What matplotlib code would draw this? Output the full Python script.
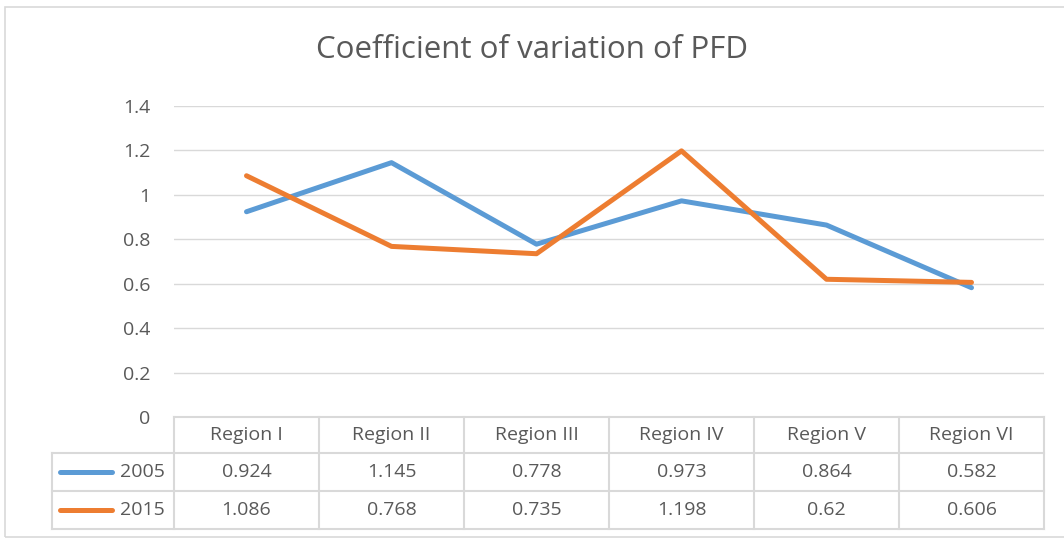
import matplotlib
matplotlib.use("Agg")
import matplotlib.pyplot as plt
from matplotlib.patches import Rectangle
from matplotlib.lines import Line2D

regions = ["Region I", "Region II", "Region III", "Region IV", "Region V", "Region VI"]
years = ["2005", "2015"]
v2005 = [0.924, 1.145, 0.778, 0.973, 0.864, 0.582]
v2015 = [1.086, 0.768, 0.735, 1.198, 0.62, 0.606]
series = [v2005, v2015]
colors = ["#5b9bd5", "#ed7d31"]
txt = "#595959"
grid = "#d9d9d9"

plt.rcParams['font.family'] = ['Open Sans', 'DejaVu Sans']

W, H = 1064, 540
fig = plt.figure(figsize=(W / 100, H / 100), dpi=100)

# pixel helpers
def fx(px):
    return px / W

def fy(py):
    return 1 - py / H

fs = 14

# outer chart border
fig.patches.append(Rectangle((fx(5), fy(537)), fx(1070) - fx(5), fy(7) - fy(537),
                             transform=fig.transFigure, fill=False, edgecolor=grid, lw=1.2))

left, right, top, bottom = 174, 1044, 106, 417
ax = fig.add_axes([fx(left), fy(bottom), fx(right) - fx(left), fy(top) - fy(bottom)])
n = len(regions)
x = [i + 0.5 for i in range(n)]
ax.set_xlim(0, n)
ax.set_ylim(0, 1.4)
ax.set_yticks([0, 0.2, 0.4, 0.6, 0.8, 1.0, 1.2, 1.4])
ax.set_yticklabels(["0", "0.2", "0.4", "0.6", "0.8", "1", "1.2", "1.4"])
ax.tick_params(axis='y', length=0, pad=17, labelsize=fs, colors=txt)
ax.set_xticks([])
for s in ax.spines.values():
    s.set_visible(False)
ax.grid(axis='y', color=grid, lw=1)
ax.set_axisbelow(True)

for vals, c in zip(series, colors):
    ax.plot(x, vals, color=c, lw=3.6, solid_capstyle='round', solid_joinstyle='round', zorder=3)

fig.text(0.5, fy(50), "Coefficient of variation of PFD", ha='center', va='center',
         fontsize=22.5, color=txt)

# data table below plot
rows_y = [417, 453, 491, 529]
col_w = (right - left) / n
lc = dict(color=grid, lw=1.5, transform=fig.transFigure)
fig.add_artist(Line2D([fx(left), fx(right)], [fy(417), fy(417)], **lc))
for py in rows_y[1:]:
    fig.add_artist(Line2D([fx(52), fx(right)], [fy(py), fy(py)], **lc))
fig.add_artist(Line2D([fx(52), fx(52)], [fy(453), fy(529)], **lc))
for i in range(n + 1):
    px = left + i * col_w
    fig.add_artist(Line2D([fx(px), fx(px)], [fy(417), fy(529)], **lc))

for i, r in enumerate(regions):
    fig.text(fx(left + (i + 0.5) * col_w), fy((rows_y[0] + rows_y[1]) / 2), r,
             ha='center', va='center', fontsize=fs, color=txt)
for j, (yr, vals, c) in enumerate(zip(years, series, colors)):
    cy = (rows_y[j + 1] + rows_y[j + 2]) / 2
    fig.add_artist(Line2D([fx(60), fx(112)], [fy(cy), fy(cy)], color=c, lw=3.6,
                          solid_capstyle='round', transform=fig.transFigure))
    fig.text(fx(165), fy(cy), yr, ha='right', va='center', fontsize=fs, color=txt)
    for i, v in enumerate(vals):
        fig.text(fx(left + (i + 0.5) * col_w), fy(cy), f"{v:g}",
                 ha='center', va='center', fontsize=fs, color=txt)

fig.savefig("out.png", dpi=100, facecolor='white')
